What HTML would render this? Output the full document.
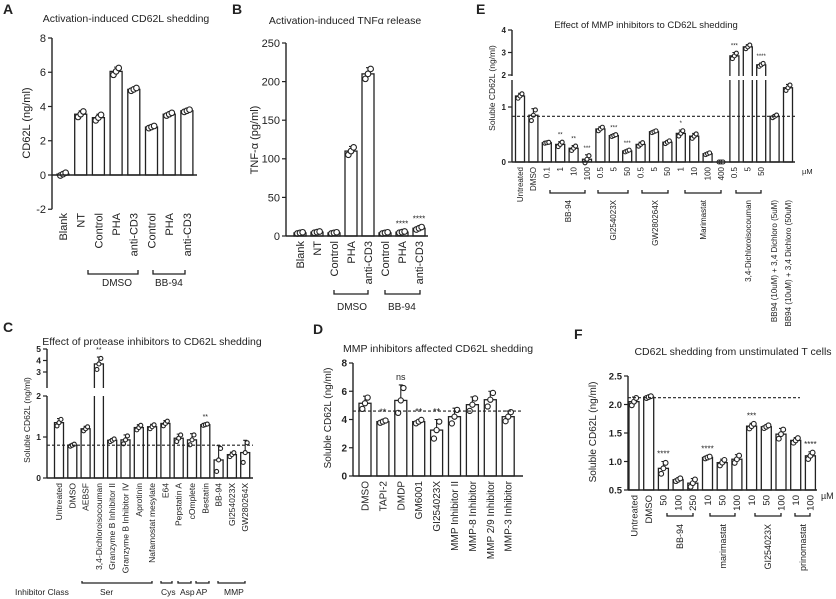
<!DOCTYPE html>
<html><head><meta charset="utf-8">
<style>
body{margin:0;background:#fff}
svg{display:block;font-family:"Liberation Sans",Arial,sans-serif;fill:#222}
text{fill:#222}
</style></head>
<body>
<svg id="fig" width="836" height="599" viewBox="0 0 836 599" xmlns="http://www.w3.org/2000/svg">
<g font-weight="bold" font-size="14">
<text x="3" y="14">A</text><text x="232" y="14">B</text><text x="476" y="14">E</text>
<text x="3" y="332">C</text><text x="313" y="334">D</text><text x="574" y="339">F</text>
</g>
<g font-size="10.5" text-anchor="middle">
<text x="126" y="22">Activation-induced CD62L shedding</text>
<text x="345" y="24">Activation-induced TNFα release</text>
<text x="646" y="28" font-size="9.5">Effect of MMP inhibitors to CD62L shedding</text>
<text x="152" y="345">Effect of protease inhibitors to CD62L shedding</text>
<text x="438" y="352">MMP inhibitors affected CD62L shedding</text>
<text x="733" y="355">CD62L shedding from unstimulated T cells</text>
</g>
<g text-anchor="middle">
<text transform="translate(30,123) rotate(-90)" font-size="11">CD62L (ng/ml)</text>
<text transform="translate(258,140) rotate(-90)" font-size="11">TNF-α (pg/ml)</text>
<text transform="translate(495,88) rotate(-90)" font-size="8.5">Soluble CD62L (ng/ml)</text>
<text transform="translate(30,420) rotate(-90)" font-size="8.5">Soluble CD62L (ng/ml)</text>
<text transform="translate(331,418) rotate(-90)" font-size="10">Soluble CD62L (ng/ml)</text>
<text transform="translate(596,432) rotate(-90)" font-size="10">Soluble CD62L (ng/ml)</text>
</g>
<g id="marks"></g>
<g stroke="#222" stroke-width="1.3" fill="none">
<path d="M88,270v4h50v-4M153,270v4h32v-4"/>
<path d="M334,290v4h34v-4M385,290v4h35v-4"/>
<path d="M550,190v3h35v-3M598,190v3h30v-3M642,190v3h26v-3M685,190v3h36v-3M736,190v3h25v-3"/>
<path d="M82,581v2h70v-2M161,581v2h11v-2M178,581v2h13v-2M196,581v2h13v-2M218,581v2h27v-2"/>
<path d="M667,513v3h26v-3M710,513v3h25v-3M755,513v3h26v-3M795,513v3h15v-3"/>
</g>
<g font-size="10">
<text x="102" y="286">DMSO</text><text x="155" y="286">BB-94</text>
<text x="337" y="310">DMSO</text><text x="388" y="310">BB-94</text>
<text x="15" y="595" font-size="8.5">Inhibitor Class</text><text x="100" y="595" font-size="8.5">Ser</text>
<text x="161" y="595" font-size="8.5">Cys</text><text x="180" y="595" font-size="8.5">Asp</text><text x="196" y="595" font-size="8.5">AP</text><text x="224" y="595" font-size="8.5">MMP</text>
<text x="802" y="174" font-size="7.5">µM</text><text x="821" y="499" font-size="9">µM</text>
</g>
<g font-size="8" text-anchor="end">
<text transform="translate(571,200) rotate(-90)">BB-94</text>
<text transform="translate(616,200) rotate(-90)">GI254023X</text>
<text transform="translate(658,200) rotate(-90)">GW280264X</text>
<text transform="translate(706,200) rotate(-90)">Marimastat</text>
<text transform="translate(751,200) rotate(-90)">3,4-Dichloroisocouman</text>
<text transform="translate(777,200) rotate(-90)">BB94 (10uM) + 3,4 Dichloro  (5uM)</text>
<text transform="translate(791,200) rotate(-90)">BB94 (10uM) + 3,4 Dichloro (50uM)</text>
<text font-size="9" transform="translate(683,524) rotate(-90)">BB-94</text>
<text font-size="9" transform="translate(726,524) rotate(-90)">marimastat</text>
<text font-size="9" transform="translate(771,524) rotate(-90)">GI254023X</text>
<text font-size="9" transform="translate(806,524) rotate(-90)">prinomastat</text>
</g>
</svg>
<script>
// ---- Panel A data
const aCats=["Blank","NT","Control","PHA","anti-CD3","Control","PHA","anti-CD3"];
const aVals=[0.05,3.55,3.35,6.05,5.0,2.8,3.55,3.75];
const aErr=[0.1,0.2,0.2,0.25,0.1,0.08,0.1,0.08];
const aTicks=[-2,0,2,4,6,8];
// ---- Panel B data
const bCats=["Blank","NT","Control","PHA","anti-CD3","Control","PHA","anti-CD3"];
const bVals=[4,5,4,110,210,4,5,10];
const bErr=[1,1,1,6,8,1,1,2];
const bTicks=[0,50,100,150,200,250];
const bStars=["","","","","","","****","****"];
// ---- Panel E data
const eCats=["Untreated","DMSO","0.1","1","10","100","0.5","5","50","0.5","5","50","1","10","100","400","0.5","5","50","",""];
const eVals=[1.2,0.85,0.35,0.32,0.25,0.05,0.6,0.48,0.2,0.32,0.55,0.36,0.52,0.47,0.15,0.0,2.85,3.25,2.45,0.83,1.35];
const eErr=[0.05,0.12,0.01,0.05,0.05,0.08,0.04,0.02,0.02,0.04,0.02,0.03,0.06,0.05,0.02,0,0.15,0.1,0.08,0.03,0.06];
const eTicksLow=[0,1];
const eTicksUp=[2,3,4];
const eStars=["","","","**","**","***","","***","***","","","","*","","","","***","","****","",""];
// ---- Panel C data
const cCats=["Untreated","DMSO","AEBSF","3,4-Dichloroisocouman","Granzyme B Inhibitor II","Granzyme B Inhibitor IV","Aprotinin","Nafamostat mesylate","E64","Pepstatin A","cOmplete","Bestatin","BB-94","GI254023X","GW280264X"];
const cVals=[1.35,0.8,1.2,3.7,0.92,0.93,1.23,1.25,1.33,0.97,0.93,1.3,0.44,0.57,0.62];
const cErr=[0.1,0.03,0.06,0.6,0.04,0.12,0.07,0.06,0.07,0.1,0.15,0.02,0.35,0.06,0.3];
const cTicksLow=[0,1,2];
const cTicksUp=[3,4,5];
const cStars=["","","","**","","","","","","","","**","","",""];
// ---- Panel D data
const dCats=["DMSO","TAPI-2","DMDP","GM6001","GI254023X","MMP Inhibitor II","MMP-8 Inhibitor","MMP 2/9 Inhibitor","MMP-3 Inhibitor"];
const dVals=[5.15,3.85,5.35,3.85,3.25,4.2,5.05,5.4,4.2];
const dErr=[0.5,0.1,1.1,0.15,0.75,0.6,0.55,0.6,0.4];
const dTicks=[0,2,4,6,8];
const dStars=["","**","ns","**","**","","","",""];
// ---- Panel F data
const fCats=["Untreated","DMSO","50","100","250","10","50","100","10","50","100","10","100"];
const fVals=[2.05,2.13,0.88,0.68,0.62,1.07,0.98,1.04,1.62,1.61,1.48,1.37,1.1];
const fErr=[0.08,0.02,0.12,0.03,0.08,0.02,0.06,0.08,0.05,0.03,0.1,0.05,0.07];
const fTicks=[0.5,1.0,1.5,2.0,2.5];
const fStars=["","","****","","","****","","","***","","","","****"];

const NS="http://www.w3.org/2000/svg";
const root=document.getElementById('marks');
function mk(tag,attrs,parent){const e=document.createElementNS(NS,tag);for(const k in attrs)e.setAttribute(k,attrs[k]);(parent||root).appendChild(e);return e;}
function lin(v0,y0,v1,y1){return v=>y0+(v-v0)*(y1-y0)/(v1-v0);}
function brk(low,up,split){return v=>v<=split?low(v):up(v);}

function panel(p){
  const g=mk('g',{});
  
  
  const xs=i=>p.x0+i*p.step;
  const base=p.y(p.baseV);
  p.vals.forEach((v,i)=>{
    const x=xs(i),y=p.y(v);
    const r=mk('rect',{x:x-p.bw/2,y:Math.min(y,base),width:p.bw,height:Math.abs(base-y),fill:'#fff',stroke:'#222','stroke-width':1.3},g);
    
    
    const e=p.err[i],yt=p.y(v+e);
    mk('path',{d:`M${x},${y}V${yt}M${x-2},${yt}H${x+2}`,stroke:'#222','stroke-width':1.1,fill:'none'},g);
    [-e,0,e].forEach((d,k)=>{
      mk('circle',{cx:x+(k-1)*p.bw*0.22,cy:p.y(v+d*0.8),r:p.dot,fill:'#fff',stroke:'#222','stroke-width':1.1},g);
    });
    if(p.stars&&p.stars[i]){const t=mk('text',{x:x,y:Math.min(yt,y)-5,'text-anchor':'middle','font-size':p.starFs||9},g);t.textContent=p.stars[i];}
    const lt=mk('text',{transform:`translate(${x+p.fs*0.35},${base+p.labOff}) rotate(-90)`,'text-anchor':'end','font-size':p.fs},g);
    lt.textContent=p.cats[i];
  });
  (p.gaps||[]).forEach(gp=>{mk('rect',{x:p.axisX-6,y:gp[0],width:p.axisEnd-p.axisX+8,height:gp[1]-gp[0],fill:'#fff'},g);});
  mk('path',{d:`M${p.axisX},${base}H${p.axisEnd}`,stroke:'#222','stroke-width':1.4,fill:'none'},g);
  (p.axisSegs).forEach(s=>mk('path',{d:`M${p.axisX},${s[0]}V${s[1]}`,stroke:'#222','stroke-width':1.4,fill:'none'},g));
  p.ticks.forEach(t=>{
    const y=p.y(t);
    mk('path',{d:`M${p.axisX-4},${y}H${p.axisX}`,stroke:'#222','stroke-width':1.2},g);
    const tx=mk('text',{x:p.axisX-6,y:y+p.tfs*0.35,'text-anchor':'end','font-size':p.tfs,'font-weight':p.tfw||'normal'},g);
    tx.textContent=p.tickFmt?p.tickFmt(t):t;
  });
  if(p.dash!=null){const y=p.y(p.dash);mk('path',{d:`M${p.axisX},${y}H${p.dashEnd||p.axisEnd}`,stroke:'#222','stroke-width':1.1,'stroke-dasharray':'3,2',fill:'none'},g);}
}

const yA=lin(0,175,8,38);
panel({name:'panel-a-chart',cats:aCats,vals:aVals,err:aErr,x0:63,step:17.7,bw:12,y:yA,baseV:0,axisX:52,axisEnd:197,
  axisSegs:[[yA(8),yA(-2)]],ticks:aTicks,tfs:11,fs:11,labOff:38,dot:2.8});
const yB=lin(0,236,250,43);
panel({name:'panel-b-chart',cats:bCats,vals:bVals,err:bErr,stars:bStars,x0:300,step:17,bw:12,y:yB,baseV:0,axisX:286,axisEnd:428,
  axisSegs:[[yB(250),yB(0)]],ticks:bTicks,tfs:11,fs:11,labOff:5,dot:2.8,starFs:8});
const yE=brk(lin(0,162,1,107),lin(2,75,4,30),1.8);
panel({name:'panel-e-chart',cats:eCats,vals:eVals,err:eErr,stars:eStars,x0:520,step:13.4,bw:9,y:yE,baseV:0,axisX:512,axisEnd:795,
  axisSegs:[[30,76],[80,162]],gaps:[[76,80]],ticks:eTicksLow.concat(eTicksUp),tfs:8,tfw:'bold',fs:8,labOff:5,dot:2,starFs:6,dash:0.83});
const yC=brk(lin(0,478,1,437),lin(3,372,5,349),2.3);
panel({name:'panel-c-chart',cats:cCats,vals:cVals,err:cErr,stars:cStars,x0:59,step:13.3,bw:9,y:yC,baseV:0,axisX:47,axisEnd:253,
  axisSegs:[[349,388],[396,478]],gaps:[[388,396]],ticks:cTicksLow.concat(cTicksUp),tfs:8.5,tfw:'bold',fs:8.5,labOff:5,dot:2,starFs:7,dash:0.8});
const yD=lin(0,476,8,363);
panel({name:'panel-d-chart',cats:dCats,vals:dVals,err:dErr,stars:dStars,x0:365,step:17.9,bw:12,y:yD,baseV:0,axisX:353,axisEnd:523,
  axisSegs:[[yD(8),yD(0)]],ticks:dTicks,tfs:10,tfw:'bold',fs:10,labOff:5,dot:2.6,starFs:9,dash:4.6});
const yF=lin(0.5,490,2.5,376);
panel({name:'panel-f-chart',cats:fCats,vals:fVals,err:fErr,stars:fStars,x0:634,step:14.7,bw:10,y:yF,baseV:0.5,axisX:628,axisEnd:817,
  axisSegs:[[yF(2.5),yF(0.5)]],ticks:fTicks,tfs:9.5,tfw:'bold',fs:9.5,labOff:5,dot:2.4,starFs:8,dash:2.12,dashEnd:800,tickFmt:t=>t.toFixed(1)});
</script>
</body></html>
